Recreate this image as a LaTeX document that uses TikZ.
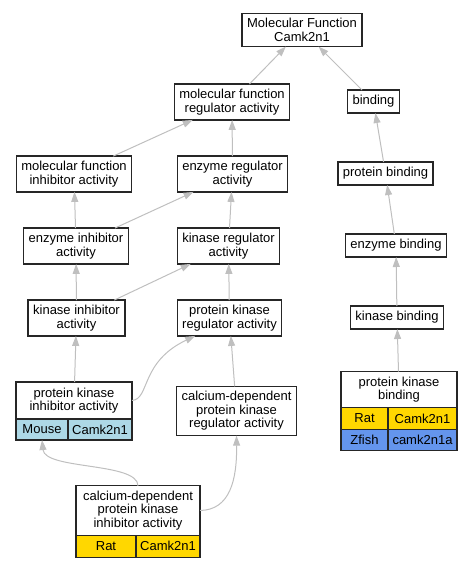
\documentclass[tikz,border=0pt]{standalone}
\usepackage{fontspec}
\setmainfont{Liberation Sans}
\usetikzlibrary{arrows.meta}
\definecolor{mouseblue}{HTML}{ADD8E6}
\definecolor{ratgold}{HTML}{FFD700}
\definecolor{fishblue}{HTML}{6495ED}

\begin{document}
\begin{tikzpicture}[x=1pt, y=-1pt, font=\fontsize{13}{13.5}\selectfont]
\tikzstyle{term} = [rectangle, draw=black!85, line width=1.3pt, fill=white, align=center, inner xsep=5pt, inner ysep=5.1pt, minimum height=23pt, outer sep=0pt]
\tikzstyle{cell} = [rectangle, draw=black!85, line width=1.3pt, inner sep=0pt, outer sep=0pt, anchor=north west, minimum height=22pt]
\tikzstyle{link} = [-{Triangle[length=10pt, width=7pt]}, draw=black!25, line width=1pt]
\useasboundingbox (0,0) rectangle (472,568);

\node (MF)   [term] at (302,30)      {Molecular Function\\Camk2n1};
\node (MFR)  [term] at (232,102)     {molecular function\\regulator activity};
\node (BND)  [term] at (373.5,101.5) {binding};
\node (MFI)  [term] at (74,174)      {molecular function\\inhibitor activity};
\node (ER)   [term] at (232.5,174)   {enzyme regulator\\activity};
\node (PB)   [term] at (385.5,173.5) {protein binding};
\node (EI)   [term] at (76,246)      {enzyme inhibitor\\activity};
\node (KR)   [term] at (228.5,246)   {kinase regulator\\activity};
\node (EB)   [term] at (396,245.5)   {enzyme binding};
\node (KI)   [term] at (76.5,318)    {kinase inhibitor\\activity};
\node (PKR)  [term] at (229.5,318)   {protein kinase\\regulator activity};
\node (KB)   [term] at (397,317.5)   {kinase binding};
\node (CPKR) [term] at (236.5,411)   {calcium-dependent\\protein kinase\\regulator activity};

\node (PKI)  [term, minimum width=116pt, minimum height=37pt] at (74,400.5) {protein kinase\\inhibitor activity};
\node (PKIa) [cell, fill=mouseblue, minimum width=52pt, minimum height=21pt] at (PKI.south west) {Mouse};
\node (PKIb) [cell, fill=mouseblue, minimum width=64pt, minimum height=21pt] at (PKIa.north east) {Camk2n1};

\node (PKB)  [term, minimum width=116pt, minimum height=35pt] at (399,389.5) {protein kinase\\binding};
\node (PKBa) [cell, fill=ratgold, minimum width=47pt] at (PKB.south west) {Rat};
\node (PKBb) [cell, fill=ratgold, minimum width=69pt] at (PKBa.north east) {Camk2n1};
\node (PKBc) [cell, fill=fishblue, minimum width=47pt, minimum height=21pt] at (PKBa.south west) {Zfish};
\node (PKBd) [cell, fill=fishblue, minimum width=69pt, minimum height=21pt] at (PKBc.north east) {camk2n1a};

\node (CPKI)  [term, minimum width=124pt, minimum height=49pt] at (138,510.5) {calcium-dependent\\protein kinase\\inhibitor activity};
\node (CPKIa) [cell, fill=ratgold, minimum width=60pt] at (CPKI.south west) {Rat};
\node (CPKIb) [cell, fill=ratgold, minimum width=64pt] at (CPKIa.north east) {Camk2n1};

\draw [link] (MFR) -- (MF);
\draw [link] (BND) -- (MF);
\draw [link] (MFI) -- (MFR);
\draw [link] (ER) -- (MFR);
\draw [link] (PB) -- (BND);
\draw [link] (EI) -- (MFI);
\draw [link] (EI) -- (ER);
\draw [link] (KR) -- (ER);
\draw [link] (EB) -- (PB);
\draw [link] (KI) -- (EI);
\draw [link] (KI) -- (KR);
\draw [link] (PKR) -- (KR);
\draw [link] (KB) -- (EB);
\draw [link] (PKI) -- (KI);
\draw [link] (CPKR) -- (PKR);
\draw [link] (PKB) -- (KB);
\draw [link] (PKI.east) .. controls (150,399) and (140,362) .. ([xshift=18pt]PKR.south west);
\draw [link] (CPKI.north) .. controls (138,462) and (45,470) .. (PKIa.south);
\draw [link] (CPKI.east) .. controls (230,510) and (237,480) .. (CPKR.south);

\end{tikzpicture}
\end{document}
